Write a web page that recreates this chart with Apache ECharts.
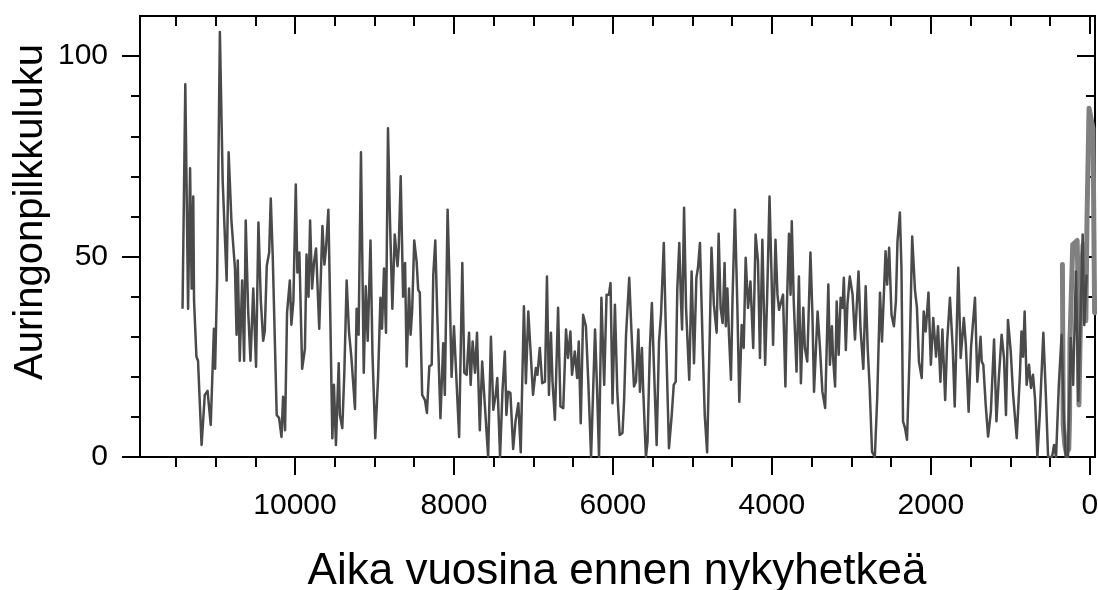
<!DOCTYPE html>
<html>
<head>
<meta charset="utf-8">
<script src="https://cdn.jsdelivr.net/npm/echarts@6/dist/echarts.min.js"></script>
<style>
html, body { margin: 0; padding: 0; background: #fff; }
#chart { width: 1098px; height: 590px; }
</style>
</head>
<body>
<div id="chart"></div>
<script>
// rekonstruktio (vuosia ennen nykyhetkeä, auringonpilkkuluku)
const reconYears = [
  11415, 11380, 11345, 11320, 11300, 11280, 11270, 11240, 11220, 11175, 11135, 11100, 11060, 11020, 11005, 10980,
  10945, 10910, 10860, 10835, 10800, 10755, 10735, 10720, 10695, 10665, 10640, 10620, 10590, 10560, 10525, 10490,
  10460, 10430, 10400, 10380, 10355, 10325, 10305, 10280, 10230, 10200, 10170, 10150, 10125, 10100, 10065, 10045,
  10020, 9990, 9970, 9945, 9910, 9875, 9855, 9830, 9810, 9785, 9760, 9735, 9695, 9655, 9630, 9610,
  9580, 9560, 9530, 9510, 9485, 9450, 9435, 9405, 9380, 9350, 9320, 9290, 9245, 9225, 9200, 9170,
  9135, 9110, 9085, 9050, 9025, 8990, 8955, 8925, 8905, 8880, 8855, 8830, 8805, 8775, 8745, 8710,
  8695, 8670, 8640, 8615, 8595, 8565, 8545, 8525, 8500, 8470, 8450, 8430, 8400, 8365, 8340, 8310,
  8280, 8260, 8235, 8210, 8170, 8135, 8115, 8080, 8060, 8030, 8000, 7975, 7935, 7895, 7870, 7840,
  7810, 7790, 7765, 7735, 7710, 7675, 7645, 7625, 7600, 7570, 7535, 7505, 7475, 7455, 7420, 7390,
  7360, 7340, 7320, 7290, 7255, 7225, 7190, 7160, 7120, 7095, 7065, 7035, 7005, 6970, 6950, 6920,
  6890, 6855, 6830, 6805, 6780, 6760, 6730, 6690, 6660, 6625, 6590, 6565, 6535, 6515, 6480, 6450,
  6430, 6405, 6375, 6340, 6310, 6275, 6225, 6200, 6175, 6145, 6110, 6080, 6050, 6030, 6005, 5975,
  5945, 5915, 5880, 5860, 5835, 5795, 5765, 5735, 5710, 5680, 5660, 5635, 5620, 5585, 5565, 5535,
  5510, 5485, 5450, 5420, 5395, 5360, 5335, 5295, 5260, 5235, 5210, 5190, 5165, 5145, 5130, 5105,
  5080, 5040, 5010, 4980, 4950, 4930, 4905, 4870, 4845, 4815, 4780, 4760, 4730, 4695, 4670, 4645,
  4620, 4595, 4580, 4560, 4540, 4515, 4495, 4465, 4435, 4410, 4380, 4355, 4330, 4300, 4270, 4235,
  4205, 4175, 4150, 4120, 4085, 4060, 4030, 4005, 3985, 3955, 3930, 3910, 3885, 3860, 3830, 3810,
  3785, 3765, 3750, 3725, 3690, 3660, 3635, 3605, 3585, 3555, 3515, 3490, 3470, 3425, 3395, 3365,
  3330, 3290, 3270, 3245, 3230, 3205, 3185, 3160, 3135, 3110, 3095, 3070, 3050, 3020, 2985, 2955,
  2935, 2910, 2885, 2850, 2820, 2795, 2770, 2740, 2705, 2675, 2640, 2615, 2570, 2550, 2525, 2495,
  2465, 2440, 2420, 2390, 2370, 2350, 2325, 2300, 2265, 2235, 2200, 2175, 2150, 2115, 2090, 2065,
  2030, 2000, 1970, 1935, 1910, 1880, 1855, 1820, 1795, 1760, 1725, 1700, 1655, 1625, 1585, 1560,
  1525, 1495, 1445, 1415, 1375, 1360, 1340, 1310, 1280, 1245, 1225, 1205, 1175, 1145, 1110, 1080,
  1055, 1030, 995, 965, 920, 880, 860, 840, 820, 795, 765, 740, 715, 690, 660, 630,
  585, 555, 525, 475, 450, 425, 390, 355, 330, 305, 275, 240, 210, 175, 145, 115,
  90, 70, 40
];
const reconValues = [
  37, 93, 37, 72, 42, 65, 39, 25, 24, 3, 15.5, 16.5, 8, 32, 22, 44,
  106, 69, 44, 76, 59, 47, 30.5, 49, 24, 44, 24, 59, 37, 24, 42, 22.5,
  58.5, 39, 29, 31.5, 47.7, 51, 64.5, 50, 10.5, 9.7, 5, 15, 6.7, 36, 44, 33,
  39, 68, 46, 51, 22, 27, 50.5, 40, 59, 42, 48.7, 52, 32, 57.6, 48, 52,
  61.7, 40, 4.7, 18, 3, 23.4, 10.5, 7.2, 20.5, 44, 31, 24.7, 12, 37, 30.5, 76,
  21, 42.6, 29, 54, 25.5, 4.7, 19.7, 39.7, 32, 47, 31, 82, 59, 37, 55.5, 47.6,
  52, 70, 40, 48.4, 22.6, 42, 30.5, 37, 54, 48.8, 41.7, 41, 15.5, 14.2, 11, 22.6,
  23, 45.5, 54, 35.5, 9.7, 28.4, 15.5, 61.7, 47, 20, 32.6, 22, 5, 48.4, 21, 20.5,
  31, 18, 28.8, 21, 31, 6.7, 23.8, 17.2, 17, 0, 30, 11.8, 15.5, 19.7, 0, 16.3,
  26.3, 10.5, 16.3, 16, 2, 9, 13.4, 1.2, 37.6, 18.4, 36.3, 26, 15.5, 22.2, 20.5, 27.2,
  18.4, 18.8, 45, 15.5, 31, 18.8, 9.3, 37.2, 12.6, 12.2, 31.8, 24.7, 31.3, 20.5, 26.3, 19.7,
  28.8, 8.4, 35.5, 32.6, 18.8, 0, 31.8, 17.2, 0, 39.7, 18, 40.5, 40.5, 43.4, 13.4, 38,
  16.3, 5.5, 6, 13.8, 30.5, 44.7, 30.5, 17.6, 18.8, 31.8, 16.3, 27.2, 17.2, 0, 3.8, 27.2,
  38.4, 23, 3, 28.8, 35.5, 53.4, 32.2, 2.2, 10.5, 18, 18.8, 42, 53.4, 39.7, 31.8, 62.2,
  37.2, 19.3, 46.3, 23.4, 44.7, 47.2, 53.4, 27.2, 10.5, 1.2, 32.2, 52.2, 38, 31, 55.7, 37.2,
  33.4, 48.4, 32.6, 42, 30.5, 19.3, 39.7, 61.7, 38, 13.8, 32.9, 27.2, 49.7, 37.2, 43.8, 27.2,
  55.5, 48.8, 24.7, 54.2, 23, 39.7, 65, 45.5, 28, 54.2, 40.5, 36.7, 37, 40.5, 17.6, 38.8,
  55.7, 40.5, 58.8, 38.8, 21.3, 45, 18.4, 37.2, 27.2, 23.8, 51, 35.5, 16.3, 36.3, 27.2, 16.3,
  12.2, 43, 23, 32.6, 24.7, 17.6, 38.8, 25.5, 39.7, 37.2, 44.7, 26.7, 38, 45, 40.5, 29.3,
  29, 46.3, 32, 22, 42.6, 27.2, 17.2, 1.3, 0, 14.7, 41, 28.8, 51.3, 43, 52.2, 35.5,
  32.6, 38.8, 53.8, 61, 47.2, 8.9, 7.2, 4.3, 27.2, 55, 41.7, 37.2, 23.8, 19.7, 36.3, 31.3,
  41, 23, 34.7, 25, 32.6, 18.8, 31.8, 14.2, 28.8, 39.7, 27.2, 12.6, 47.2, 24.7, 34.7, 28,
  11.3, 27.2, 39.7, 18.8, 30, 23.8, 23, 13, 5.1, 11.3, 11, 29.3, 8.9, 19.7, 30.5, 24.7,
  10.5, 34.2, 26.3, 15.5, 4.7, 20.5, 31.3, 25, 36.3, 18, 23, 17.2, 20.5, 14.7, 0, 10.5,
  31, 16.3, 0, 0, 3, 0, 18, 30.5, 12.2, 0, 0, 29.7, 18, 46.3, 14, 36.3,
  55.5, 32.9, 45.5
];

// havaittu sarja (paksu harmaa)
const obsYears = [345, 335, 315, 295, 265, 255, 250, 215, 190, 160, 150, 137, 120, 105, 85, 70, 50, 35, 10, 0, -40, -60];
const obsValues = [48, 8, 3, 1, 2, 10, 29, 53, 53, 54, 45, 13, 32, 45, 53, 40, 34, 60, 87, 86, 82, 36];

// akselien jakoviivat
const xMajor = [0, 2000, 4000, 6000, 8000, 10000];
const xMinor = [500, 1000, 1500, 2500, 3000, 3500, 4500, 5000, 5500, 6500, 7000, 7500, 8500, 9000, 9500, 10500, 11000, 11500];
const yMajor = [0, 50, 100];
const yMinor = [10, 20, 30, 40, 60, 70, 80, 90];

const FONT = '"Liberation Sans", Arial, Helvetica, sans-serif';
const X_MIN = -65;
const X_MAX = 11950;
const Y_MAX = 110;

function gridBox() {
  return { left: 140, right: 3, top: 16, bottom: 133, containLabel: false, outerBoundsMode: 'none' };
}
const black = () => ({ color: '#000', width: 2 });
const labelStyle = margin => ({
  show: true, fontSize: 30, fontFamily: FONT, color: '#000', margin: margin, formatter: v => String(v)
});

function xAxisOf(grid, pos, ticks, len, labels) {
  return {
    type: 'value', gridIndex: grid, position: pos, inverse: true,
    min: X_MIN, max: X_MAX,
    splitLine: { show: false },
    axisLine: { show: true, onZero: false, lineStyle: black() },
    axisTick: { show: true, inside: pos === 'top', length: len, customValues: ticks, lineStyle: black() },
    axisLabel: labels ? Object.assign(labelStyle(34), { customValues: ticks }) : { show: false }
  };
}

function yAxisOf(grid, pos, ticks, len, labels) {
  return {
    type: 'value', gridIndex: grid, position: pos, min: 0, max: Y_MAX,
    splitLine: { show: false },
    axisLine: { show: true, onZero: false, lineStyle: black() },
    axisTick: { show: true, inside: pos === 'right', length: len, customValues: ticks, lineStyle: black() },
    axisLabel: labels ? Object.assign(labelStyle(32), { customValues: ticks }) : { show: false }
  };
}

const chart = echarts.init(document.getElementById('chart'), null, { renderer: 'canvas' });

chart.setOption({
  animation: false,
  backgroundColor: '#fff',
  grid: [gridBox(), gridBox()],
  xAxis: [
    xAxisOf(0, 'bottom', xMajor, 18, true),
    xAxisOf(0, 'top', xMajor, 18, false),
    xAxisOf(1, 'bottom', xMinor, 10, false),
    xAxisOf(1, 'top', xMinor, 10, false)
  ],
  yAxis: [
    yAxisOf(0, 'left', yMajor, 18, true),
    yAxisOf(0, 'right', yMajor, 18, false),
    yAxisOf(1, 'left', yMinor, 9, false),
    yAxisOf(1, 'right', yMinor, 9, false)
  ],
  graphic: [
    {
      type: 'text', x: 617, y: 572,
      style: { text: 'Aika vuosina ennen nykyhetkeä', font: '44px ' + FONT, fill: '#000', align: 'center', verticalAlign: 'middle' }
    },
    {
      type: 'text', x: 31, y: 212, rotation: Math.PI / 2,
      style: { text: 'Auringonpilkkuluku', font: '40px ' + FONT, fill: '#000', align: 'center', verticalAlign: 'middle' }
    }
  ],
  series: [
    {
      type: 'line', xAxisIndex: 0, yAxisIndex: 0,
      data: reconYears.map((y, i) => [y, reconValues[i]]),
      showSymbol: false,
      lineStyle: { color: '#4a4a4a', width: 2.5, join: 'round' },
      z: 3
    },
    {
      type: 'line', xAxisIndex: 0, yAxisIndex: 0,
      data: obsYears.map((y, i) => [y, obsValues[i]]),
      showSymbol: false,
      lineStyle: { color: '#808080', width: 5, cap: 'round', join: 'round' },
      z: 2
    }
  ]
});
</script>
</body>
</html>
